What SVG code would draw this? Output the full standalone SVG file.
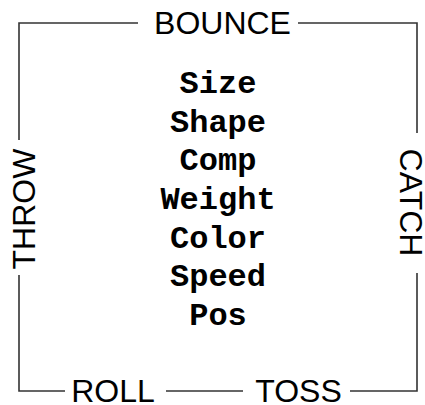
<svg xmlns="http://www.w3.org/2000/svg" width="425" height="405" viewBox="0 0 425 405">
<style>
.lbl{font-family:"Liberation Sans",Arial,sans-serif;font-size:32px;fill:#000;text-anchor:middle}
.prop{font-family:"Liberation Mono","Courier New",monospace;font-size:32px;font-weight:bold;fill:#000;text-anchor:middle}
.wire{stroke:#333;stroke-width:1.6;fill:none}
</style>
<rect width="425" height="405" fill="#fff"/>
<g id="connectors">
<polyline class="wire" points="138,23 19,23 19,140"/>
<polyline class="wire" points="298,23 417,23 417,133"/>
<polyline class="wire" points="19,275 19,391 65,391"/>
<line class="wire" x1="166" y1="391" x2="243" y2="391"/>
<polyline class="wire" points="350,391 417,391 417,273"/>
</g>
<g id="bounce"><text class="lbl" x="222.5" y="34">BOUNCE</text></g>
<g id="catch"><text class="lbl" transform="translate(400,202.5) rotate(90)">CATCH</text></g>
<g id="throw"><text class="lbl" transform="translate(35,209) rotate(-90)">THROW</text></g>
<g id="roll"><text class="lbl" x="113" y="402">ROLL</text></g>
<g id="toss"><text class="lbl" x="298.5" y="402">TOSS</text></g>
<g id="properties">
<text class="prop" x="218" y="93">Size</text>
<text class="prop" x="218" y="131.7">Shape</text>
<text class="prop" x="218" y="170.3">Comp</text>
<text class="prop" x="218" y="209">Weight</text>
<text class="prop" x="218" y="247.7">Color</text>
<text class="prop" x="218" y="286.3">Speed</text>
<text class="prop" x="218" y="325">Pos</text>
</g>
</svg>
